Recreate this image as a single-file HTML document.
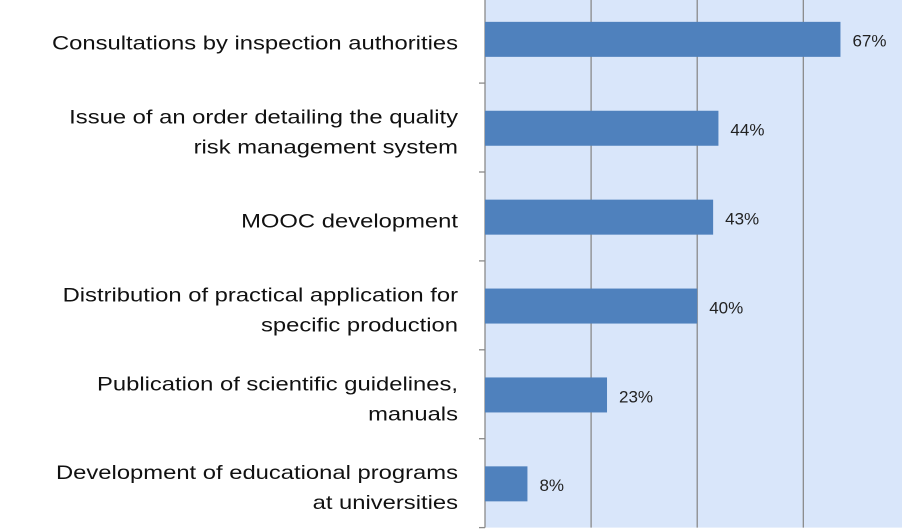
<!DOCTYPE html>
<html><head><meta charset="utf-8"><style>
body{margin:0;background:#fff;}
svg{display:block;font-family:"Liberation Sans",sans-serif;}
</style></head><body>
<svg id="chart" width="919" height="529"></svg>
<script>
const categories=[["Consultations by inspection authorities"],["Issue of an order detailing the quality","risk management system"],["MOOC development"],["Distribution of practical application for","specific production"],["Publication of scientific guidelines,","manuals"],["Development of educational programs","at universities"]];
const values=[67,44,43,40,23,8];
const valueLabels=["67%","44%","43%","40%","23%","8%"];
const gridTicks=[20,40,60];
const NS="http://www.w3.org/2000/svg";
const svg=document.getElementById('chart');
const x0=485,x1=902,xmax=78.6,yTop=-5.8,yBot=527.6;
const band=(yBot-yTop)/categories.length;
const xs=v=>x0+v/xmax*(x1-x0);
function mk(t,a){const e=document.createElementNS(NS,t);for(const k in a)e.setAttribute(k,a[k]);svg.appendChild(e);return e;}
const bg=mk('rect',{x:x0,y:0,width:x1-x0,height:yBot,fill:'#d9e6fa'});


gridTicks.forEach(t=>{const l=mk('line',{x1:xs(t),x2:xs(t),y1:0,y2:yBot,stroke:'#8a8a8a','stroke-width':1.3});

});
const ax=mk('line',{x1:x0,x2:x0,y1:0,y2:yBot,stroke:'#8a8a8a','stroke-width':1.3});


for(let i=1;i<=categories.length;i++){const y=yTop+band*i;const t=mk('line',{x1:x0-6,x2:x0,y1:y,y2:y,stroke:'#8a8a8a','stroke-width':1.3});

}
categories.forEach((c,i)=>{
 const cy=yTop+band*(i+0.5);
 const bh=35;
 const r=mk('rect',{x:x0,y:cy-bh/2+0.7,width:xs(values[i])-x0,height:bh,fill:'#4f81bd'});
 
 
 const vl=mk('text',{x:xs(values[i])+12,y:cy+8,'font-size':17,fill:'#222'});
 vl.textContent=valueLabels[i];
 
 
 const n=c.length;
 c.forEach((line,j)=>{
  const ty=cy+11+(j-(n-1)/2)*30;
  const t=mk('text',{x:458,y:ty,'font-size':19.5,'text-anchor':'end',fill:'#111'});
  t.textContent=line;
  
  
  const w=t.getComputedTextLength();
  t.setAttribute('textLength',(w*1.22).toFixed(1));
  t.setAttribute('lengthAdjust','spacingAndGlyphs');
 });
});
</script>
</body></html>
